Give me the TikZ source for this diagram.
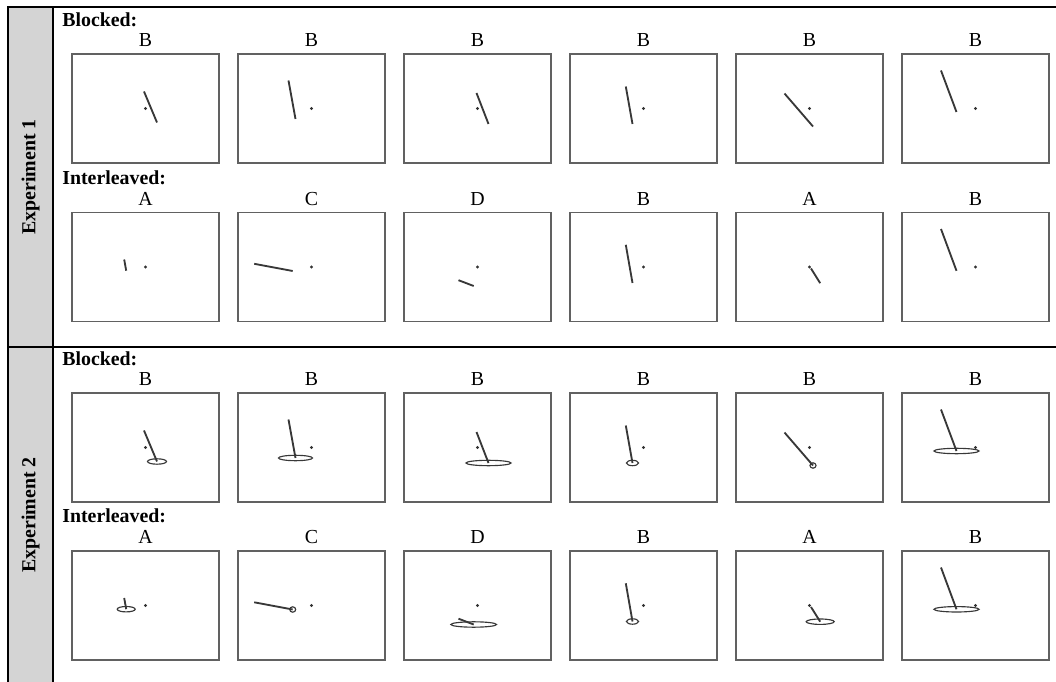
\documentclass[tikz,border=0pt]{standalone}
\usepackage{fontspec}
\setmainfont{Liberation Serif}
\usetikzlibrary{positioning}

\tikzset{
  panel/.style={draw=black!62, line width=0.7pt, minimum width=2.94cm, minimum height=2.18cm, inner sep=0pt},
  cond/.style={inner sep=0pt, font=\fontsize{11.3}{13}\selectfont},
  rowhead/.style={anchor=west, inner sep=0pt, font=\fontsize{11.3}{13}\selectfont\bfseries},
  exphead/.style={rotate=90, inner sep=0pt, font=\fontsize{11.3}{13}\selectfont\bfseries},
  stim/.style={black!78, line width=1.05pt},
  ring/.style={black!78, line width=0.65pt},
  fixdot/.style={fill=black!80},
}

\begin{document}
\begin{tikzpicture}[x=0.02cm, y=-0.02cm]
\useasboundingbox (0,0) rectangle (1056,682);
% left column and frame
\fill[black!17] (8,7) rectangle (53,682);
\draw[line width=0.6pt] (8,682) -- (8,7) -- (1056,7);
\draw[line width=0.6pt] (53,7) -- (53,682);
\draw[line width=0.6pt] (8,347) -- (1056,347);
\node[exphead] (exp1) at (30.5,177) {Experiment 1};
\node[exphead] (exp2) at (30.5,515) {Experiment 2};

\foreach \e/\yb/\yi in {1/108.5/267, 2/447.5/605.5}{
  \node[rowhead] (e\e-blk) at (62,\yb-88.5) {Blocked:};
  \node[rowhead] (e\e-int) at (62,\yi-89.5) {Interleaved:};
  % blocked trials
  \foreach \c/\ax/\ay/\bx/\by/\rx in {1/-1.5/-17/11.5/14/9.5, 2/-23/-28/-16/10.5/17,
      3/-1/-15.5/11/15.5/22.5, 4/-17.7/-22/-11/15.5/6, 5/-25/-15/3.5/18/3,
      6/-34.5/-38/-19/3.5/22.5}{
    \node[panel] (e\e-b\c) at ({145.5+166*(\c-1)},\yb) {};
    \node[cond, above=3.5pt of e\e-b\c] (e\e-b\c-lbl) {B};
    \begin{scope}[shift={(e\e-b\c.center)}]
      \fill[fixdot] (0,0) circle [radius=1.7];
      \draw[stim] (\ax,\ay) -- (\bx,\by);
      \ifnum\e=2 \draw[ring] (\bx,\by) ellipse [x radius=\rx, y radius=2.7]; \fi
    \end{scope}
  }
  % interleaved trials
  \foreach \c/\lt/\ax/\ay/\bx/\by/\rx in {1/A/-21.3/-7.5/-19.3/3.7/9, 2/C/-57.3/-3.2/-18.8/4/3,
      3/D/-19/13.2/-3.8/19/22.8, 4/B/-17.7/-22.2/-11/16/6, 5/A/1.5/1.5/10.7/16.2/14,
      6/B/-34.5/-38/-19/3.8/22.5}{
    \node[panel] (e\e-i\c) at ({145.5+166*(\c-1)},\yi) {};
    \node[cond, above=3.5pt of e\e-i\c] (e\e-i\c-lbl) {\lt};
    \begin{scope}[shift={(e\e-i\c.center)}]
      \fill[fixdot] (0,0) circle [radius=1.7];
      \draw[stim] (\ax,\ay) -- (\bx,\by);
      \ifnum\e=2 \draw[ring] (\bx,\by) ellipse [x radius=\rx, y radius=2.7]; \fi
    \end{scope}
  }
}
\end{tikzpicture}
\end{document}
